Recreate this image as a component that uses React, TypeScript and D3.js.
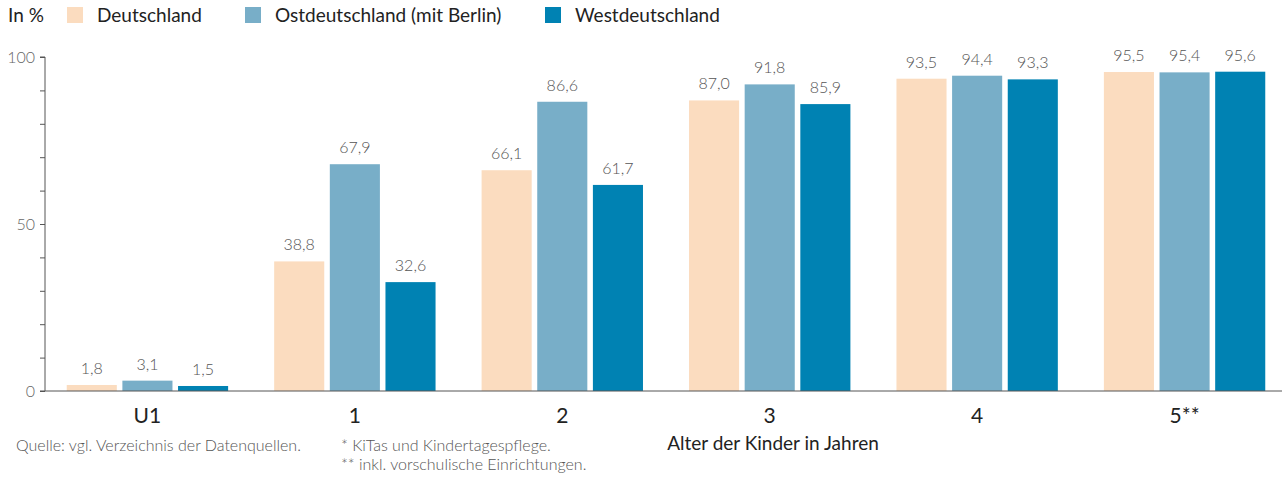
import * as d3 from "d3";
import { useEffect, useRef } from "react";

const ageGroups = ["U1", "1", "2", "3", "4", "5**"];
const seriesNames = ["Deutschland", "Ostdeutschland (mit Berlin)", "Westdeutschland"];
const deutschland = [1.8, 38.8, 66.1, 87.0, 93.5, 95.5];
const ostdeutschland = [3.1, 67.9, 86.6, 91.8, 94.4, 95.4];
const westdeutschland = [1.5, 32.6, 61.7, 85.9, 93.3, 95.6];
const yTicks = [0, 50, 100];
const colors = ["#fbdcbf", "#78aec8", "#0082b3"];

const W = 1283;
const H = 477;

export default function App() {
  const svgRef = useRef<SVGSVGElement>(null);

  useEffect(() => {
    if (!svgRef.current) return;
    const svg = d3.select(svgRef.current);
    svg.selectAll("*").remove();

    const font = "Lato, 'Open Sans', sans-serif";
    const left = 45;
    const right = 1282;
    const top = 57;
    const bottom = 391;

    const x0 = d3
      .scaleBand()
      .domain(ageGroups)
      .range([left + 1, right + 4])
      .paddingInner(0.222)
      .paddingOuter(0.1);
    const x1 = d3.scaleBand().domain(seriesNames).range([0, x0.bandwidth()]).paddingInner(0.1);
    const y = d3.scaleLinear().domain([0, 100]).range([bottom, top]);

    const rows = ageGroups.map((g, i) => ({
      group: g,
      values: [deutschland[i], ostdeutschland[i], westdeutschland[i]],
    }));

    // bars
    const groups = svg
      .append("g")
      .selectAll("g")
      .data(rows)
      .enter()
      .append("g")
      .attr("transform", (d) => `translate(${x0(d.group)},0)`);

    groups
      .selectAll("rect")
      .data((d) => d.values.map((v, j) => ({ name: seriesNames[j], v, j })))
      .enter()
      .append("rect")
      .attr("x", (d) => x1(d.name)!)
      .attr("width", x1.bandwidth())
      .attr("y", (d) => y(d.v))
      .attr("height", (d) => y(0) - y(d.v))
      .attr("fill", (d) => colors[d.j]);

    groups
      .selectAll("text")
      .data((d) => d.values.map((v, j) => ({ name: seriesNames[j], v, j })))
      .enter()
      .append("text")
      .attr("x", (d) => x1(d.name)! + x1.bandwidth() / 2)
      .attr("y", (d) => y(d.v) - 11)
      .attr("text-anchor", "middle")
      .style("font-family", font)
      .style("font-size", "16px")
      .style("font-weight", 300)
      .style("fill", "#555")
      .text((d) => d.v.toFixed(1).replace(".", ","));

    // y axis
    const yAxis = d3
      .axisLeft(y)
      .tickValues(d3.range(0, 101, 10))
      .tickSize(5)
      .tickFormat((d) => (yTicks.includes(+d) ? `${d}` : ""));
    const yg = svg.append("g").attr("transform", `translate(${left},0)`).call(yAxis);
    yg.select(".domain").attr("stroke", "#555").attr("d", `M-5,${top}H0V${bottom}`);
    yg.selectAll(".tick line").attr("stroke", "#555");
    yg.selectAll(".tick text")
      .attr("x", -10)
      .style("font-family", font)
      .style("font-size", "16px")
      .style("font-weight", 300)
      .style("fill", "#666");

    // x axis line
    svg
      .append("line")
      .attr("x1", left - 5)
      .attr("x2", right)
      .attr("y1", bottom)
      .attr("y2", bottom)
      .attr("stroke", "#555")
      .attr("stroke-width", 1);

    svg
      .append("g")
      .selectAll("text")
      .data(ageGroups)
      .enter()
      .append("text")
      .attr("x", (d) => x0(d)! + x0.bandwidth() / 2)
      .attr("y", 423)
      .attr("text-anchor", "middle")
      .style("font-family", font)
      .style("font-size", "21px")
      .style("fill", "#222")
      .text((d) => d);

    svg
      .append("text")
      .attr("x", 773)
      .attr("y", 450)
      .attr("text-anchor", "middle")
      .style("font-family", font)
      .style("font-size", "19px")
      .style("fill", "#222")
      .text("Alter der Kinder in Jahren");

    // legend
    svg
      .append("text")
      .attr("x", 8)
      .attr("y", 22)
      .style("font-family", font)
      .style("font-size", "19px")
      .style("fill", "#222")
      .text("In %");

    const legendX = [67, 245, 545];
    seriesNames.forEach((name, i) => {
      svg
        .append("rect")
        .attr("x", legendX[i])
        .attr("y", 7)
        .attr("width", 16)
        .attr("height", 16)
        .attr("fill", colors[i]);
      svg
        .append("text")
        .attr("x", legendX[i] + 30)
        .attr("y", 22)
        .style("font-family", font)
        .style("font-size", "19px")
        .style("fill", "#222")
        .text(name);
    });

    // footnotes
    const notes = [
      { x: 16, y: 451, t: "Quelle: vgl. Verzeichnis der Datenquellen." },
      { x: 341, y: 451, t: "* KiTas und Kindertagespflege." },
      { x: 341, y: 470, t: "** inkl. vorschulische Einrichtungen." },
    ];
    notes.forEach((n) => {
      svg
        .append("text")
        .attr("x", n.x)
        .attr("y", n.y)
        .style("font-family", font)
        .style("font-size", "16px")
        .style("font-weight", 300)
        .style("fill", "#555")
        .text(n.t);
    });
  }, []);

  return (
    <svg
      ref={svgRef}
      width={W}
      height={H}
      style={{ position: "absolute", left: 0, top: 0, background: "#fff" }}
    />
  );
}
